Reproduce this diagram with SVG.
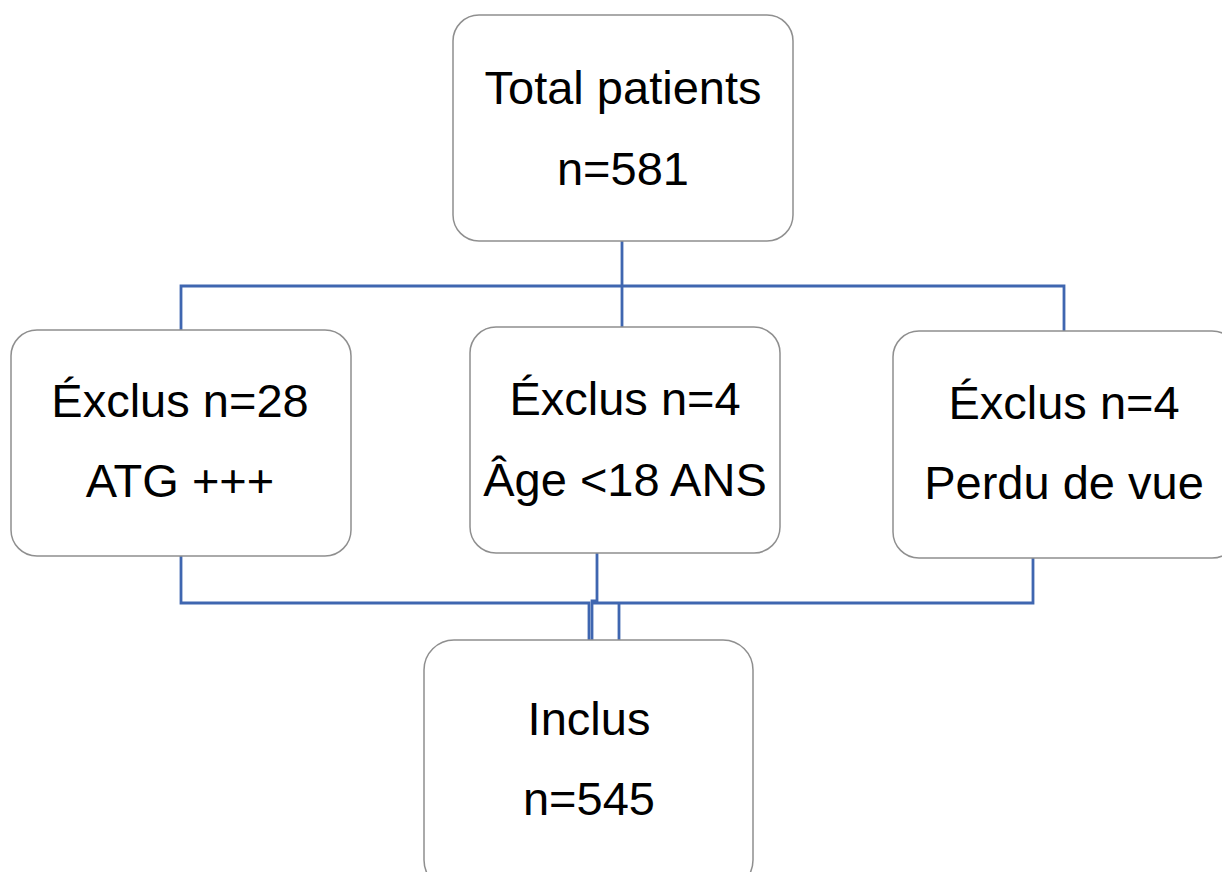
<svg xmlns="http://www.w3.org/2000/svg" width="1222" height="872" viewBox="0 0 1222 872">
<style>
.box{fill:#fff;stroke:#8f8f8f;stroke-width:1.5}
.t{font-family:"Liberation Sans",Arial,sans-serif;font-size:47px;fill:#000;text-anchor:middle}
.c{fill:none;stroke:#3f66b0;stroke-width:2.8}
</style>
<rect width="1222" height="872" fill="#fff"/>
<g id="connectors">
<path class="c" d="M622,241 V327"/>
<path class="c" d="M181,330 V286 H1064 V331"/>
<path class="c" d="M181,556 V603 H589 V640"/>
<path class="c" d="M597,553 V601 H592 V640"/>
<path class="c" d="M1033,558 V603 H591 M619,603 V640"/>
</g>
<g id="total">
<rect class="box" x="453" y="15" width="340" height="226" rx="26"/>
<text class="t" x="623" y="104">Total patients</text>
<text class="t" x="623" y="185">n=581</text>
</g>
<g id="exclus28">
<rect class="box" x="11" y="330" width="340" height="226" rx="26"/>
<text class="t" x="180" y="417">Éxclus n=28</text>
<text class="t" x="180" y="497">ATG +++</text>
</g>
<g id="exclus4age">
<rect class="box" x="470" y="327" width="310" height="226" rx="26"/>
<text class="t" x="625" y="415">Éxclus n=4</text>
<text class="t" x="625" y="496">Âge &lt;18 ANS</text>
</g>
<g id="exclus4perdu">
<rect class="box" x="893" y="331" width="345" height="227" rx="26"/>
<text class="t" x="1064" y="419">Éxclus n=4</text>
<text class="t" x="1064" y="499">Perdu de vue</text>
</g>
<g id="inclus">
<rect class="box" x="424" y="640" width="329" height="250" rx="30"/>
<text class="t" x="589" y="735">Inclus</text>
<text class="t" x="589" y="815">n=545</text>
</g>
</svg>
